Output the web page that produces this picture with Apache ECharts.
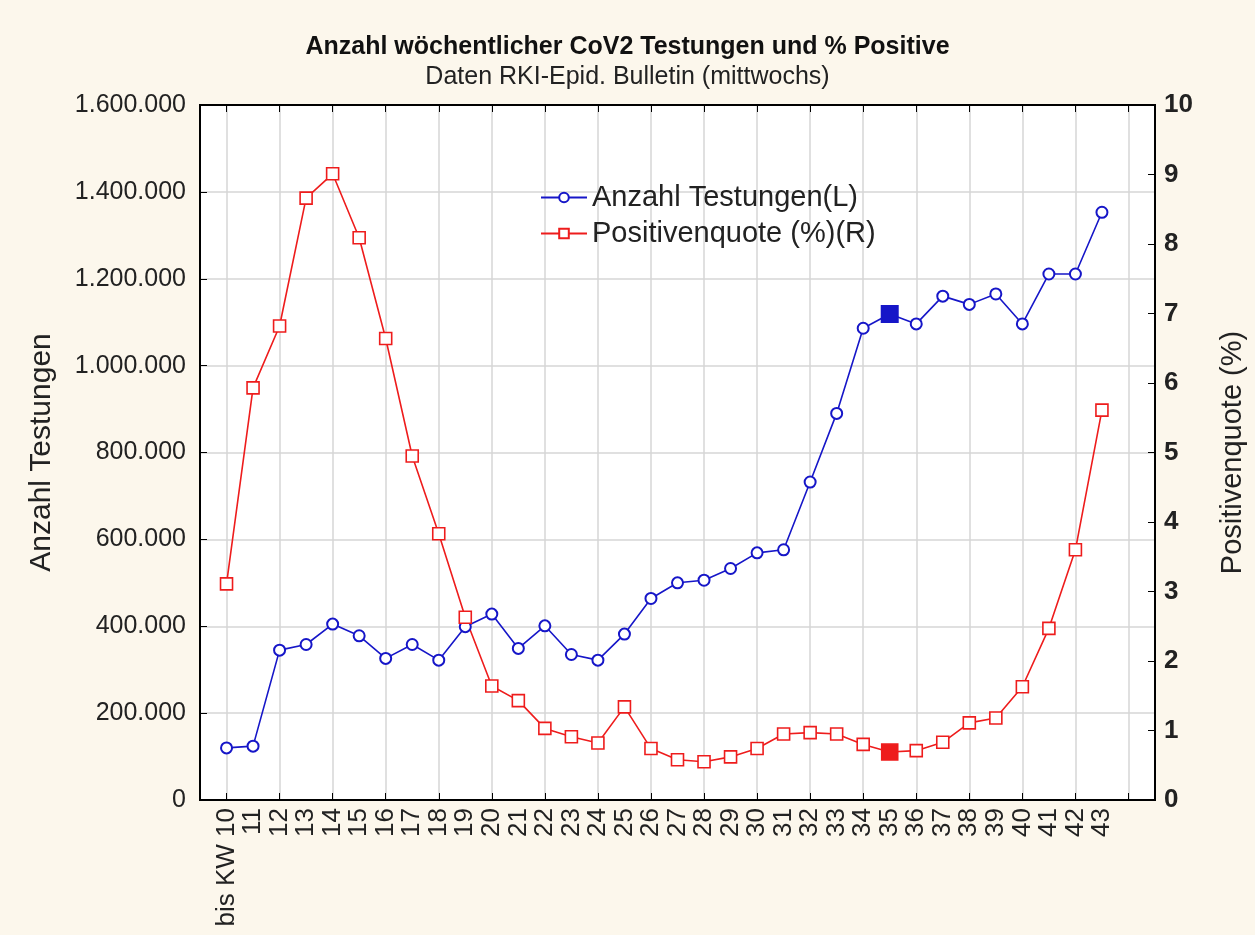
<!DOCTYPE html>
<html lang="de">
<head>
    <meta charset="UTF-8">
    <title>CoV2 Testungen</title>
    <style type="text/css">
        html, body {height: 100%; margin: 0; background: #fcf7ec;}
    </style>
</head>
<body>
    <div id="container_1" style="width: 1255px; height: 935px;"></div>
    <script type="text/javascript" src="https://cdn.jsdelivr.net/npm/echarts@6/dist/echarts.min.js"></script>
    <script type="text/javascript">
        // Kalenderwochen (x-Achse)
        var weeks = ['bis KW 10', '11', '12', '13', '14', '15', '16', '17', '18', '19',
                     '20', '21', '22', '23', '24', '25', '26', '27', '28', '29',
                     '30', '31', '32', '33', '34', '35', '36', '37', '38', '39',
                     '40', '41', '42', '43'];
        // Anzahl Testungen (linke Achse)
        var tests = [120000, 124000, 345000, 358000, 405000, 378000, 326000, 358000, 322000, 399000,
                     428000, 349000, 401000, 335000, 322000, 382000, 464000, 500000, 506000, 533000,
                     569000, 576000, 732000, 890000, 1086000, 1119000, 1096000, 1160000, 1141000, 1165000,
                     1096000, 1211000, 1211000, 1353000];
        // Positivenquote in % (rechte Achse)
        var positive = [3.11, 5.93, 6.82, 8.66, 9.01, 8.09, 6.64, 4.95, 3.83, 2.63,
                        1.64, 1.43, 1.03, 0.91, 0.82, 1.34, 0.74, 0.58, 0.55, 0.62,
                        0.74, 0.95, 0.97, 0.95, 0.80, 0.69, 0.71, 0.83, 1.11, 1.18,
                        1.63, 2.47, 3.60, 5.61];
        var highlightWeek = '35';

        var blue = '#1616c8';
        var red = '#ee1c1c';
        var font = 'Liberation Sans, Arial, sans-serif';

        // eine leere Stelle vorne, zwei hinten (Achse geht von 9 bis 45)
        var cats = [''].concat(weeks).concat(['', '']);
        var hi = cats.indexOf(highlightWeek);

        function pad(arr, color) {
            var out = [null];
            for (var i = 0; i < arr.length; i++) {
                if (i + 1 === hi) {
                    out.push({value: arr[i], symbol: 'rect', symbolSize: 16,
                              itemStyle: {color: color, borderColor: color}});
                } else {
                    out.push(arr[i]);
                }
            }
            return out.concat([null, null]);
        }

        function dots(v) {
            return String(v).replace(/\B(?=(\d{3})+(?!\d))/g, '.');
        }

        // Gitterlinien nur bei geraden KW (10, 12, ... 44)
        var everyOther = function (idx) { return idx % 2 === 1; };

        var dom = document.getElementById('container_1');
        var myChart = echarts.init(dom, null, {renderer: 'canvas'});
        var option = {
            backgroundColor: '#fcf7ec',
            animation: false,
            title: {
                text: 'Anzahl wöchentlicher CoV2 Testungen und % Positive',
                subtext: 'Daten RKI-Epid. Bulletin (mittwochs)',
                left: 'center',
                top: 30,
                itemGap: 5,
                textStyle: {fontFamily: font, fontSize: 25, fontWeight: 'bold', color: '#111'},
                subtextStyle: {fontFamily: font, fontSize: 25, color: '#222'}
            },
            legend: {
                orient: 'vertical',
                left: 535,
                top: 178,
                itemWidth: 46,
                itemHeight: 12,
                itemGap: 7,
                textStyle: {fontFamily: font, fontSize: 29, color: '#222'},
                data: ['Anzahl Testungen(L)', 'Positivenquote (%)(R)']
            },
            grid: {
                left: 200, right: 100, top: 105, bottom: 135,
                show: true, backgroundColor: '#fff', borderColor: '#000', borderWidth: 2
            },
            xAxis: [{
                type: 'category',
                data: cats,
                boundaryGap: false,
                axisLine: {lineStyle: {color: '#000', width: 2}},
                axisTick: {show: true, inside: true, length: 7, interval: everyOther, lineStyle: {color: '#000'}},
                splitLine: {show: true, interval: everyOther, lineStyle: {color: '#d6d6d6', width: 1.5}},
                axisLabel: {interval: 0, rotate: 90, margin: 8, fontFamily: font, fontSize: 26, color: '#222'}
            }, {
                type: 'category',
                data: cats,
                position: 'top',
                boundaryGap: false,
                axisLine: {onZero: false, lineStyle: {color: '#000', width: 2}},
                axisTick: {show: true, inside: true, length: 7, interval: everyOther, lineStyle: {color: '#000'}},
                axisLabel: {show: false}
            }],
            yAxis: [{
                type: 'value',
                name: 'Anzahl Testungen',
                nameLocation: 'middle',
                nameGap: 143,
                nameTextStyle: {fontFamily: font, fontSize: 30, color: '#222'},
                min: 0,
                max: 1600000,
                interval: 200000,
                axisLine: {show: true, lineStyle: {color: '#000', width: 2}},
                axisTick: {show: true, inside: true, length: 7, lineStyle: {color: '#000'}},
                splitLine: {show: true, lineStyle: {color: '#d6d6d6', width: 1.5}},
                axisLabel: {margin: 14, fontFamily: font, fontSize: 25, color: '#222', formatter: dots}
            }, {
                type: 'value',
                name: 'Positivenquote (%)',
                nameLocation: 'middle',
                nameGap: 63,
                nameRotate: 90,
                nameTextStyle: {fontFamily: font, fontSize: 29, color: '#222'},
                min: 0,
                max: 10,
                interval: 1,
                axisLine: {show: true, lineStyle: {color: '#000', width: 2}},
                axisTick: {show: true, inside: true, length: 7, lineStyle: {color: '#000'}},
                splitLine: {show: false},
                axisLabel: {margin: 9, fontFamily: font, fontSize: 26, fontWeight: 'bold', color: '#222'}
            }],
            series: [
                {name: 'Anzahl Testungen(L)', type: 'line', data: pad(tests, blue), yAxisIndex: 0,
                 symbol: 'circle', symbolSize: 11, showAllSymbol: true,
                 lineStyle: {color: blue, width: 1.6},
                 itemStyle: {color: '#fff', borderColor: blue, borderWidth: 2}},
                {name: 'Positivenquote (%)(R)', type: 'line', data: pad(positive, red), yAxisIndex: 1,
                 symbol: 'rect', symbolSize: 12, showAllSymbol: true,
                 lineStyle: {color: red, width: 1.6},
                 itemStyle: {color: '#fff', borderColor: red, borderWidth: 1.6}}
            ]
        };
        myChart.setOption(option);
    </script>
</body>
</html>
